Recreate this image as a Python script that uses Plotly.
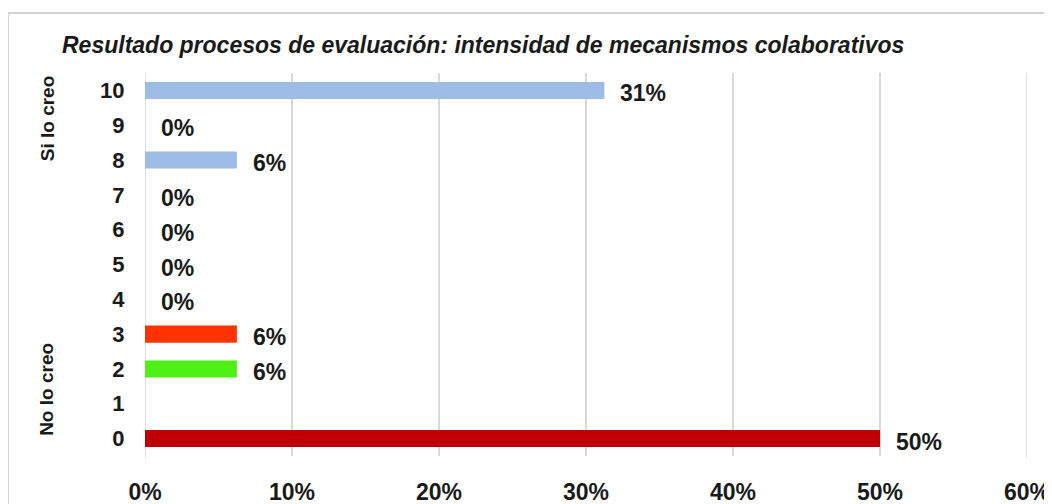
import plotly.graph_objects as go

categories = ["0", "1", "2", "3", "4", "5", "6", "7", "8", "9", "10"]
values = [0.50, None, 0.0625, 0.0625, 0.0, 0.0, 0.0, 0.0, 0.0625, 0.0, 0.3125]
labels = ["50%", "", "6%", "6%", "0%", "0%", "0%", "0%", "6%", "0%", "31%"]
bar_colors = ["#c00000", "#9dbde6", "#4cf014", "#ff3300", "#9dbde6", "#9dbde6",
              "#9dbde6", "#9dbde6", "#9dbde6", "#9dbde6", "#9dbde6"]
x_ticks = [0, 0.1, 0.2, 0.3, 0.4, 0.5, 0.6]
x_tick_labels = ["0%", "10%", "20%", "30%", "40%", "50%", "60%"]
title_text = "Resultado procesos de evaluación: intensidad de mecanismos colaborativos"
group_labels = ["Si lo creo", "No lo creo"]
group_positions = [9.2, 1.4]

FONT = "Liberation Sans, Arial, sans-serif"
OFF = 8  # page body margin
W, H = 1052 - OFF, 504 - OFF
L, R, T, B = 145 - OFF, W - (1027 - OFF), 73 - OFF, H - (456 - OFF)
pw, ph = W - L - R, H - T - B

fig = go.Figure()
fig.add_trace(go.Bar(
    y=categories, x=[v if v is not None else 0 for v in values], orientation="h",
    marker=dict(color=bar_colors, line=dict(width=0)),
    width=0.49, hoverinfo="skip",
))

annotations = []
for c, v, lab in zip(categories, values, labels):
    if lab:
        annotations.append(dict(
            x=v, y=c, xref="x", yref="y", text=lab, showarrow=False,
            xanchor="left", yanchor="middle", xshift=14, yshift=-3,
            font=dict(family=FONT, size=23, color="#1a1a1a", weight="bold"),
        ))
for g, pos in zip(group_labels, group_positions):
    annotations.append(dict(
        x=(47 - OFF - L) / pw, y=pos, xref="paper", yref="y", text=g, showarrow=False,
        textangle=-90, xanchor="center", yanchor="middle",
        font=dict(family=FONT, size=19, color="#1a1a1a", weight="bold"),
    ))

grid_shapes = [
    dict(type="line", xref="x", yref="paper", x0=xv, x1=xv, y0=-0.005, y1=1,
         line=dict(color="#d9d9d9", width=1.5), layer="below")
    for xv in (x_ticks[0], x_ticks[-1])
]

fig.update_layout(
    width=W, height=H,
    margin=dict(l=L, r=R, t=T, b=B, autoexpand=False),
    paper_bgcolor="white", plot_bgcolor="white",
    showlegend=False,
    title=dict(
        text=title_text, x=(62 - OFF) / W, xanchor="left", xref="container",
        y=1 - (45 - OFF) / H, yanchor="middle", yref="container", automargin=False,
        font=dict(family=FONT, size=23, color="#1a1a1a", weight="bold", style="italic"),
    ),
    xaxis=dict(
        range=[0, 0.6], tickvals=x_ticks, ticktext=x_tick_labels,
        showgrid=True, gridcolor="#d9d9d9", gridwidth=1.5,
        zeroline=False, showline=False, automargin=False,
        ticks="outside", ticklen=15, tickcolor="rgba(0,0,0,0)",
        tickfont=dict(family=FONT, size=23, color="#1a1a1a", weight="bold"),
        fixedrange=True,
    ),
    yaxis=dict(
        type="category", categoryorder="array", categoryarray=categories,
        range=[-0.5, 10.5], showgrid=False, zeroline=False, showline=False,
        automargin=False,
        ticks="outside", ticklen=15, tickcolor="rgba(0,0,0,0)",
        tickfont=dict(family=FONT, size=22, color="#1a1a1a", weight="bold"),
        fixedrange=True,
    ),
    annotations=annotations,
    shapes=grid_shapes + [
        dict(type="rect", xref="paper", yref="paper",
             x0=(0 - L) / pw, x1=(1070 - L) / pw,
             y0=-(530 - (H - B)) / ph, y1=((H - B) - 5) / ph,
             line=dict(color="#d4d4d4", width=2), fillcolor="rgba(0,0,0,0)", layer="below"),
    ],
)

fig.write_html("out.html")
